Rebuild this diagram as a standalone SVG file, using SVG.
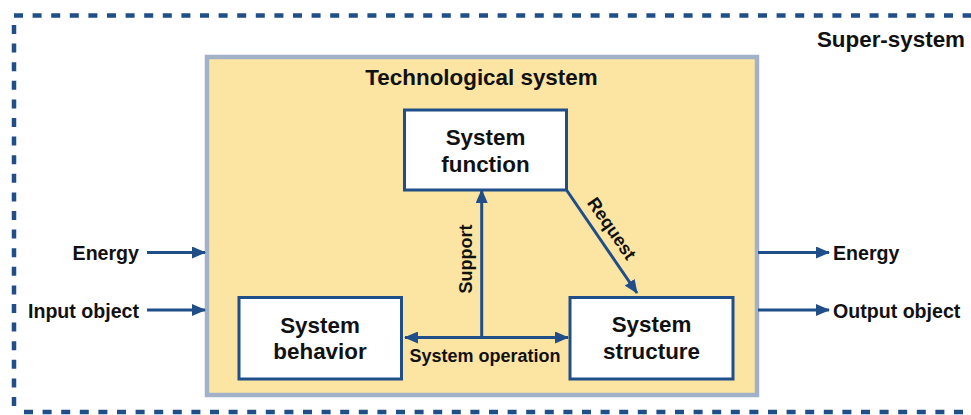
<svg xmlns="http://www.w3.org/2000/svg" width="971" height="415" viewBox="0 0 971 415">
<defs>
<style>
.t{font-family:"Liberation Sans",Arial,Helvetica,sans-serif;font-weight:bold;fill:#111;}
.big{font-size:22.4px;}
.mid{font-size:19.6px;}
.sm{font-size:18px;}
.dash{fill:none;stroke:#1F4E89;stroke-width:4.5;stroke-dasharray:9 9.6;}
.box{fill:#fff;stroke:#1F4E89;stroke-width:3;}
.arr{fill:none;stroke:#1F4E89;stroke-width:3;marker-end:url(#ah);}
</style>
<marker id="ah" markerUnits="userSpaceOnUse" markerWidth="14" markerHeight="12" refX="13" refY="6" orient="auto-start-reverse">
<path d="M0,0 L14,6 L0,12 z" fill="#1F4E89"/>
</marker>
</defs>
<rect width="971" height="415" fill="#fff"/>
<g id="super-system">
<line class="dash" x1="14" y1="15.5" x2="975" y2="15.5"/>
<line class="dash" x1="14" y1="25" x2="14" y2="420"/>
<line class="dash" x1="24" y1="412" x2="975" y2="412"/>
<text class="t big" x="965" y="47" text-anchor="end">Super-system</text>
</g>
<g id="technological-system">
<rect x="207" y="57" width="550" height="338" fill="#FCE5A3" stroke="#A2B0C8" stroke-width="4.5"/>
<text class="t big" x="481.5" y="85" text-anchor="middle">Technological system</text>
</g>
<g id="system-function">
<rect class="box" x="404.5" y="110" width="162" height="80"/>
<text class="t big" x="485.5" y="145" text-anchor="middle">System</text>
<text class="t big" x="485.5" y="172" text-anchor="middle">function</text>
</g>
<g id="system-behavior">
<rect class="box" x="239" y="297.5" width="162.5" height="81.5"/>
<text class="t big" x="320" y="333" text-anchor="middle">System</text>
<text class="t big" x="320" y="359" text-anchor="middle">behavior</text>
</g>
<g id="system-structure">
<rect class="box" x="570" y="297.5" width="163" height="81.5"/>
<text class="t big" x="651.5" y="332" text-anchor="middle">System</text>
<text class="t big" x="651.5" y="359" text-anchor="middle">structure</text>
</g>
<g id="inputs">
<text class="t mid" x="139" y="260" text-anchor="end">Energy</text>
<text class="t mid" x="139" y="318" text-anchor="end">Input object</text>
</g>
<g id="outputs">
<text class="t mid" x="833" y="260">Energy</text>
<text class="t mid" x="833" y="318">Output object</text>
</g>
<g id="connectors">
<line class="arr" x1="147" y1="252.5" x2="205" y2="252.5"/>
<line class="arr" x1="147" y1="310" x2="205" y2="310"/>
<line class="arr" x1="758" y1="252.5" x2="829" y2="252.5"/>
<line class="arr" x1="758" y1="310" x2="829" y2="310"/>
<line class="arr" x1="481.7" y1="337.5" x2="481.7" y2="190"/>
<line class="arr" x1="405" y1="337.5" x2="568" y2="337.5" marker-start="url(#ah)"/>
<line class="arr" x1="566.5" y1="190" x2="637" y2="293"/>
<text class="t sm" x="485" y="362" text-anchor="middle">System operation</text>
<text class="t sm" transform="translate(471.5,259) rotate(-90)" text-anchor="middle">Support</text>
<text class="t sm" transform="translate(611.7,228.5) rotate(55.4)" text-anchor="middle" y="6">Request</text>
</g>
</svg>
